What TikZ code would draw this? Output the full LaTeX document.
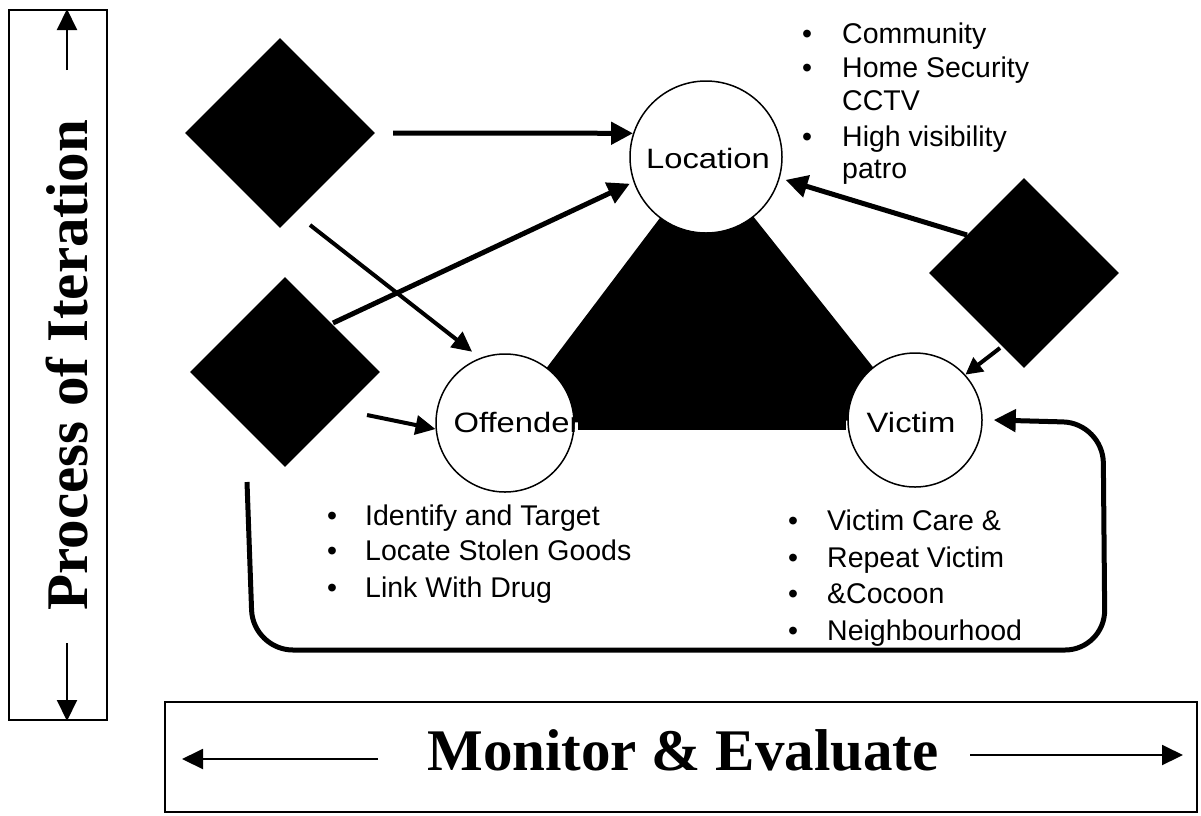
\documentclass[tikz,border=0pt]{standalone}
\usepackage{fontspec}
\setmainfont{Liberation Serif}
\newfontfamily\arialf{Liberation Sans}
\usetikzlibrary{arrows.meta,shapes.geometric,calc}
\begin{document}
\begin{tikzpicture}[x=1pt,y=-1pt,
  dia/.style={diamond,fill=black,minimum width=190pt,minimum height=190pt,inner sep=0pt,aspect=1},
  ring/.style={circle,draw=black,line width=1.5pt,fill=white,inner sep=0pt},
  lbl/.style={font=\arialf\fontsize{28}{30}\selectfont,inner sep=0pt},
  itm/.style={font=\arialf\fontsize{28.5}{34}\selectfont,anchor=base west,inner sep=0pt},
  bul/.style={font=\arialf\fontsize{28.5}{34}\selectfont,anchor=base,inner sep=0pt},
  big/.style={-{Triangle[length=22pt,width=22pt]},line width=5pt},
  mid/.style={-{Triangle[length=20pt,width=19pt]},line width=4pt},
  sml/.style={-{Triangle[length=17pt,width=17pt]},line width=4pt},
  thin/.style={-{Triangle[length=21pt,width=20pt]},line width=2pt},
  ttl/.style={font=\bfseries\fontsize{59}{60}\selectfont,inner sep=0pt},
  frame/.style={draw=black,line width=2pt,inner sep=0pt}
]
\useasboundingbox (0,0) rectangle (1201,815);
\fill[white] (0,0) rectangle (1201,815);

% ---- left box: Process of Iteration
\node[frame,minimum width=98pt,minimum height=710pt] (lbox) at (57.5,365) {};
\node[ttl,rotate=90] (iter) at (67,365) {Process of Iteration};
\coordinate (ua) at (67,70);
\coordinate (da) at (67,643);
\draw[thin] (ua) -- (ua |- lbox.north);
\draw[thin] (da) -- (da |- lbox.south);

% ---- bottom box: Monitor & Evaluate
\node[frame,minimum width=1032pt,minimum height=110pt] (mbox) at (681,757) {};
\node[ttl] (mon) at (683,750) {Monitor \& Evaluate};
\coordinate (la) at (378,759);
\coordinate (ra) at (970,755);
\draw[thin,shorten >=18pt] (la) -- (la -| mbox.west);
\draw[thin,shorten >=15pt] (ra) -- (ra -| mbox.east);

% ---- triangle and circles
\coordinate (cL) at (706,157);
\coordinate (cO) at (505,423);
\coordinate (cV) at (915,420);
\fill[black] (cL) -- (cO) -- (cV) -- cycle;
\node[ring,minimum size=152pt] (loc) at (cL) {};
\node[ring,minimum size=138pt] (off) at (cO) {};
\node[ring,minimum size=134pt] (vic) at (cV) {};
\node[lbl] (locT) at (708,158) {\scalebox{1.17}[1]{Location}};
\node[lbl] (offT) at (517,422) {\scalebox{1.17}[1]{Offender}};
\node[lbl] (vicT) at (911,422) {\scalebox{1.17}[1]{Victim}};
\node[fill=black,inner sep=0pt,minimum width=268pt,minimum height=33pt] (blk) at (712,413.5) {};

% ---- diamonds
\node[dia] (d1) at (280,133) {};
\node[dia] (d2) at (285,372) {};
\node[dia] (d3) at (1024,273) {};

% ---- arrows
\coordinate (a1) at (393,133);
\coordinate (a2) at (310,225);
\coordinate (a3) at (333,323);
\coordinate (a4) at (367,415);
\coordinate (a5) at (967,235);
\coordinate (a6) at (1000,348);
\coordinate (a7) at (247,482);
\draw[big] (a1) -- (loc.162);
\draw[mid,shorten >=10pt] (a2) -- (off.111);
\draw[big,shorten >=4pt] (a3) -- (loc.199);
\draw[mid] (a4) -- (off.185);
\draw[big,shorten >=6pt] (a5) -- (loc.344);
\draw[sml] (a6) -- (vic.42);
\draw[big,rounded corners=40pt] (a7) -- (253,650) -- (1105,650) -- (1103,423) -- ($(vic.east)+(11,0)$);

% ---- bullet list: Location
\node[bul] (b1) at (807,43) {\textbullet};
\node[itm] (t1) at (842,43) {Community};
\node[bul] (b2) at (807,77) {\textbullet};
\node[itm] (t2) at (842,77) {Home Security};
\node[itm] (t3) at (842,110) {CCTV};
\node[bul] (b4) at (807,146) {\textbullet};
\node[itm] (t4) at (842,146) {High visibility};
\node[itm] (t5) at (842,178) {patro};

% ---- bullet list: Offender
\node[bul] (ob1) at (332,525) {\textbullet};
\node[itm] (ot1) at (365,525) {Identify and Target};
\node[bul] (ob2) at (332,560) {\textbullet};
\node[itm] (ot2) at (365,560) {Locate Stolen Goods};
\node[bul] (ob3) at (332,597) {\textbullet};
\node[itm] (ot3) at (365,597) {Link With Drug};

% ---- bullet list: Victim
\node[bul] (vb1) at (793,530) {\textbullet};
\node[itm] (vt1) at (827,530) {Victim Care \&};
\node[bul] (vb2) at (793,567) {\textbullet};
\node[itm] (vt2) at (827,567) {Repeat Victim};
\node[bul] (vb3) at (793,603) {\textbullet};
\node[itm] (vt3) at (827,603) {\&Cocoon};
\node[bul] (vb4) at (793,640) {\textbullet};
\node[itm] (vt4) at (827,640) {Neighbourhood};
\end{tikzpicture}
\end{document}
